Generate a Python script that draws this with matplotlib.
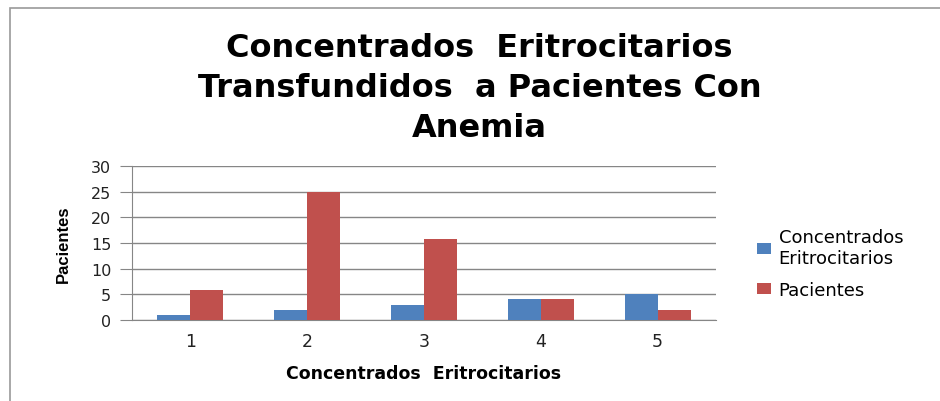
#!/usr/bin/env python3

import matplotlib
matplotlib.use("Agg")
import matplotlib.pyplot as plt
import numpy as np
from matplotlib.patches import Rectangle

categories = ["1", "2", "3", "4", "5"]
concentrados = [1, 2, 2.9, 4, 5]
pacientes = [5.8, 25, 15.8, 4, 2]
series_names = ["Concentrados\nEritrocitarios", "Pacientes"]

blue = "#4F81BD"
red = "#C0504D"
grid_col = "#868686"

plt.rcParams['font.family'] = ['DejaVu Sans']

fig = plt.figure(figsize=(9.4, 4.02), dpi=100)
ax = fig.add_axes([0.1404, 0.2015, 0.6213, 0.383])

x = np.arange(len(categories))
w = 0.283
ax.bar(x - w / 2, concentrados, w, color=blue, label=series_names[0], zorder=3)
ax.bar(x + w / 2, pacientes, w, color=red, label=series_names[1], zorder=3)

ax.set_xlim(-0.5, len(categories) - 0.5)
ax.set_ylim(0, 30)
ax.set_yticks(range(0, 31, 5))
ax.set_xticks(x)
ax.set_xticklabels(categories)
ax.yaxis.grid(True, color=grid_col, linewidth=1, zorder=0)
ax.tick_params(axis='y', length=9, color=grid_col, labelsize=11.5, labelcolor='#222222', pad=6)
ax.tick_params(axis='x', length=0, labelsize=12.5, labelcolor='#222222', pad=9)
for s in ['top', 'right']:
    ax.spines[s].set_visible(False)
ax.spines['left'].set_color(grid_col)
ax.spines['bottom'].set_color(grid_col)

ax.set_xlabel("Concentrados  Eritrocitarios", fontsize=12.5, fontweight='bold',
              labelpad=10)
ax.set_ylabel("Pacientes", fontsize=12, fontweight='bold',
              family=['Liberation Sans Narrow', 'Liberation Sans'], labelpad=14)

fig.text(0.510, 0.779, "Concentrados  Eritrocitarios\nTransfundidos  a Pacientes Con\nAnemia",
         ha='center', va='center', fontsize=23, fontweight='bold', linespacing=1.38)

fig.legend(loc='upper left', bbox_to_anchor=(0.788, 0.47), frameon=False,
           fontsize=13, handlelength=0.8, handleheight=0.6, handletextpad=0.4,
           labelspacing=0.75)

# chart border
fig.add_artist(Rectangle((0.011, -0.1), 1.2, 0.878 + 0.1 + 0.1, transform=fig.transFigure,
                         fill=False, edgecolor='#9a9a9a', linewidth=1.2))

fig.savefig("out.png", dpi=100)
